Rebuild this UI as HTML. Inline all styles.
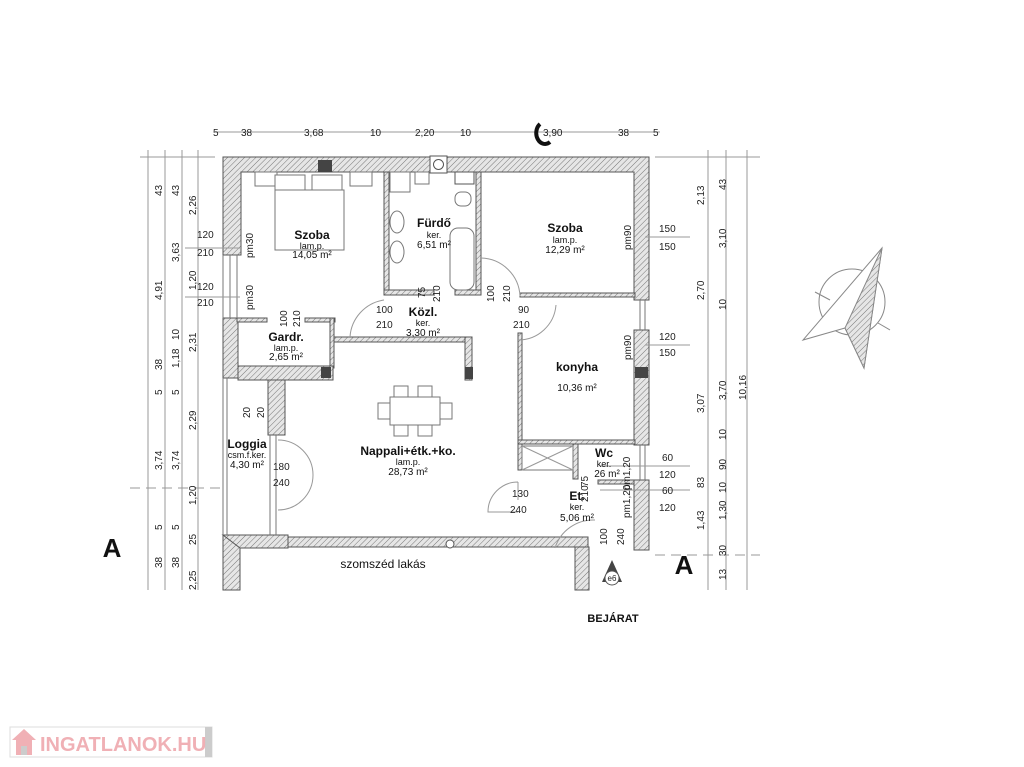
<!DOCTYPE html>
<html><head><meta charset="utf-8"><style>
html,body{margin:0;padding:0;background:#fff;}
svg{display:block;font-family:"Liberation Sans",Arial,sans-serif;}
</style></head><body>
<svg width="1024" height="767" viewBox="0 0 1024 767" xmlns="http://www.w3.org/2000/svg">
<defs>
<pattern id="h" width="4" height="4" patternUnits="userSpaceOnUse" patternTransform="rotate(45)">
<rect width="4" height="4" fill="#e6e6e6"/><line x1="0" y1="0" x2="0" y2="4" stroke="#777" stroke-width="1"/>
</pattern>
</defs>
<g stroke="#555" stroke-width="1" fill="url(#h)">
<!-- outer top wall -->
<path d="M223 157 H649 V300 H634 V172 H241 V255 H223 Z"/>
<!-- right wall lower -->
<rect x="634" y="330" width="15" height="115"/>
<rect x="634" y="480" width="15" height="70"/>
<!-- left wall lower pieces -->
<rect x="223" y="318" width="15" height="60"/>
<!-- bath walls -->
<rect x="384" y="172" width="5" height="120"/>
<rect x="476" y="172" width="5" height="122"/>
<rect x="384" y="290" width="50" height="5"/>
<rect x="455" y="290" width="26" height="5"/>
<!-- szoba right bottom wall -->
<rect x="520" y="293" width="115" height="4"/>
<!-- konyha left wall -->
<rect x="518" y="333" width="4" height="137"/>
<rect x="518" y="440" width="117" height="4"/>
<rect x="573" y="444" width="5" height="35"/>
<rect x="598" y="480" width="36" height="4"/>
<!-- gardr walls -->
<rect x="237" y="318" width="30" height="4"/>
<rect x="305" y="318" width="30" height="4"/>
<rect x="330" y="318" width="4" height="50"/>
<rect x="334" y="337" width="138" height="5"/>
<rect x="465" y="337" width="7" height="43"/>
<rect x="238" y="366" width="95" height="14"/>
<rect x="268" y="380" width="17" height="55"/>
<!-- bottom walls -->
<rect x="223" y="535" width="17" height="55"/>
<path d="M223 535 H288 V548 H240 Z"/>
<rect x="288" y="537" width="300" height="10"/>
<rect x="575" y="547" width="14" height="43"/>
</g>
<g fill="#444">
<rect x="318" y="160" width="14" height="12"/>
<rect x="321" y="367" width="10" height="11"/>
<rect x="465" y="367" width="8" height="12"/>
<rect x="635" y="367" width="13" height="11"/>
</g>
<g fill="#fff" stroke="#555">
<rect x="430" y="156" width="17" height="17"/><circle cx="438.5" cy="164.5" r="5"/>
<circle cx="450" cy="544" r="4"/>
<rect x="455" y="172" width="19" height="12"/>
</g>
<!-- windows -->
<g stroke="#777" fill="none">
<line x1="223" y1="255" x2="223" y2="318"/><line x1="230" y1="255" x2="230" y2="318"/><line x1="237" y1="255" x2="237" y2="318"/>
<line x1="640" y1="300" x2="640" y2="330"/><line x1="645" y1="300" x2="645" y2="330"/>
<line x1="640" y1="445" x2="640" y2="480"/><line x1="645" y1="445" x2="645" y2="480"/>
<line x1="223" y1="378" x2="223" y2="535"/><line x1="227" y1="378" x2="227" y2="535"/>
<line x1="270" y1="435" x2="270" y2="535"/><line x1="276" y1="435" x2="276" y2="535"/>
</g>
<!-- furniture -->
<g stroke="#777" fill="#fff">
<rect x="255" y="172" width="22" height="14"/><rect x="350" y="172" width="22" height="14"/>
<rect x="275" y="175" width="30" height="16"/><rect x="312" y="175" width="30" height="16"/>
<rect x="275" y="190" width="69" height="60"/>
<rect x="390" y="172" width="20" height="20"/><rect x="415" y="172" width="14" height="12"/>
<ellipse cx="397" cy="222" rx="7" ry="11"/><ellipse cx="397" cy="252" rx="7" ry="11"/>
<rect x="455" y="192" width="16" height="14" rx="6"/>
<rect x="450" y="228" width="24" height="62" rx="8"/>
<rect x="390" y="397" width="50" height="28"/>
<rect x="378" y="403" width="12" height="16"/><rect x="440" y="403" width="12" height="16"/>
<rect x="394" y="386" width="14" height="11"/><rect x="418" y="386" width="14" height="11"/>
<rect x="394" y="425" width="14" height="11"/><rect x="418" y="425" width="14" height="11"/>
<rect x="522" y="446" width="51" height="24" fill="none"/>
</g>
<g stroke="#999" fill="none">
<line x1="522" y1="446" x2="573" y2="470"/><line x1="573" y1="446" x2="522" y2="470"/>
<!-- door arcs -->
<path d="M350 337 A 40 40 0 0 1 384 300"/>
<path d="M481 258 A 40 40 0 0 1 520 296"/>
<path d="M518 340 A 38 38 0 0 0 556 305"/>
<path d="M278 440 A 35 35 0 0 1 313 475 M278 510 A 35 35 0 0 0 313 475"/>
<path d="M518 482 A 30 30 0 0 0 488 512 H518 M518 482 V500"/>
<path d="M595 520 A 40 40 0 0 0 555 548"/>
<!-- dims -->
<line x1="215" y1="132" x2="660" y2="132"/>
<line x1="148" y1="150" x2="148" y2="590"/><line x1="165" y1="150" x2="165" y2="590"/><line x1="182" y1="150" x2="182" y2="590"/><line x1="198" y1="150" x2="198" y2="590"/>
<line x1="140" y1="157" x2="215" y2="157"/>
<line x1="708" y1="150" x2="708" y2="590"/><line x1="726" y1="150" x2="726" y2="590"/><line x1="747" y1="150" x2="747" y2="590"/>
<line x1="655" y1="157" x2="760" y2="157"/>
<line x1="185" y1="248" x2="240" y2="248"/><line x1="185" y1="297" x2="240" y2="297"/>
<line x1="645" y1="237" x2="690" y2="237"/><line x1="645" y1="345" x2="690" y2="345"/>
<line x1="600" y1="466" x2="690" y2="466"/><line x1="600" y1="490" x2="690" y2="490"/>
<line x1="130" y1="488" x2="225" y2="488" stroke-dasharray="10 6"/>
<line x1="655" y1="555" x2="760" y2="555" stroke-dasharray="10 6"/>
</g>
<!-- compass -->
<g stroke="#888" fill="none">
<circle cx="852" cy="302" r="33"/>
<path d="M882 248 L803 340 L845 328 L864 368 Z" fill="#fff"/>
<path d="M882 248 L845 328 L864 368 Z" fill="url(#h)"/>
<line x1="815" y1="292" x2="830" y2="300"/><line x1="878" y1="323" x2="890" y2="330"/>
</g>
<!-- e6 -->
<path d="M612 560 L602 582 L622 582 Z" fill="#444"/>
<circle cx="612" cy="578" r="7" fill="#fff" stroke="#555"/>
<text x="612" y="581" font-size="8" text-anchor="middle" fill="#222">e6</text>
<g fill="#222" font-size="10">
<text x="213" y="136">5</text><text x="241" y="136">38</text><text x="304" y="136">3,68</text><text x="370" y="136">10</text><text x="415" y="136">2,20</text><text x="460" y="136">10</text><text x="543" y="136">3,90</text><text x="618" y="136">38</text><text x="653" y="136">5</text>
<text x="197" y="238">120</text><text x="197" y="256">210</text><text x="197" y="290">120</text><text x="197" y="306">210</text>
<text x="659" y="232">150</text><text x="659" y="250">150</text><text x="659" y="340">120</text><text x="659" y="356">150</text>
<text x="662" y="461">60</text><text x="659" y="478">120</text><text x="662" y="494">60</text><text x="659" y="511">120</text>
<text x="376" y="313">100</text><text x="376" y="328">210</text>
<text x="518" y="313">90</text><text x="513" y="328">210</text>
<text x="273" y="470">180</text><text x="273" y="486">240</text>
<text x="512" y="497">130</text><text x="510" y="513">240</text>
</g>
<g fill="#222" font-size="10">
<g transform="translate(162,196) rotate(-90)"><text>43</text></g>
<g transform="translate(179,196) rotate(-90)"><text>43</text></g>
<g transform="translate(196,215) rotate(-90)"><text>2,26</text></g>
<g transform="translate(179,262) rotate(-90)"><text>3,63</text></g>
<g transform="translate(162,300) rotate(-90)"><text>4,91</text></g>
<g transform="translate(196,290) rotate(-90)"><text>1,20</text></g>
<g transform="translate(179,340) rotate(-90)"><text>10</text></g>
<g transform="translate(179,368) rotate(-90)"><text>1,18</text></g>
<g transform="translate(196,352) rotate(-90)"><text>2,31</text></g>
<g transform="translate(162,370) rotate(-90)"><text>38</text></g>
<g transform="translate(162,395) rotate(-90)"><text>5</text></g><g transform="translate(179,395) rotate(-90)"><text>5</text></g>
<g transform="translate(196,430) rotate(-90)"><text>2,29</text></g>
<g transform="translate(162,470) rotate(-90)"><text>3,74</text></g><g transform="translate(179,470) rotate(-90)"><text>3,74</text></g>
<g transform="translate(196,505) rotate(-90)"><text>1,20</text></g>
<g transform="translate(162,530) rotate(-90)"><text>5</text></g><g transform="translate(179,530) rotate(-90)"><text>5</text></g>
<g transform="translate(196,545) rotate(-90)"><text>25</text></g>
<g transform="translate(162,568) rotate(-90)"><text>38</text></g><g transform="translate(179,568) rotate(-90)"><text>38</text></g>
<g transform="translate(196,590) rotate(-90)"><text>2,25</text></g>
<g transform="translate(704,205) rotate(-90)"><text>2,13</text></g>
<g transform="translate(726,190) rotate(-90)"><text>43</text></g>
<g transform="translate(726,248) rotate(-90)"><text>3,10</text></g>
<g transform="translate(704,300) rotate(-90)"><text>2,70</text></g>
<g transform="translate(726,310) rotate(-90)"><text>10</text></g>
<g transform="translate(726,400) rotate(-90)"><text>3,70</text></g>
<g transform="translate(746,400) rotate(-90)"><text>10,16</text></g>
<g transform="translate(704,413) rotate(-90)"><text>3,07</text></g>
<g transform="translate(726,440) rotate(-90)"><text>10</text></g>
<g transform="translate(726,470) rotate(-90)"><text>90</text></g>
<g transform="translate(704,488) rotate(-90)"><text>83</text></g>
<g transform="translate(726,493) rotate(-90)"><text>10</text></g>
<g transform="translate(726,520) rotate(-90)"><text>1,30</text></g>
<g transform="translate(704,530) rotate(-90)"><text>1,43</text></g>
<g transform="translate(726,556) rotate(-90)"><text>30</text></g>
<g transform="translate(726,580) rotate(-90)"><text>13</text></g>
<g transform="translate(253,258) rotate(-90)"><text>pm30</text></g>
<g transform="translate(253,310) rotate(-90)"><text>pm30</text></g>
<g transform="translate(631,250) rotate(-90)"><text>pm90</text></g>
<g transform="translate(631,360) rotate(-90)"><text>pm90</text></g>
<g transform="translate(287,327) rotate(-90)"><text>100</text></g><g transform="translate(300,327) rotate(-90)"><text>210</text></g>
<g transform="translate(425,298) rotate(-90)"><text>75</text></g><g transform="translate(440,302) rotate(-90)"><text>210</text></g>
<g transform="translate(494,302) rotate(-90)"><text>100</text></g><g transform="translate(510,302) rotate(-90)"><text>210</text></g>
<g transform="translate(250,418) rotate(-90)"><text>20</text></g><g transform="translate(264,418) rotate(-90)"><text>20</text></g>
<g transform="translate(588,487) rotate(-90)"><text>75</text></g><g transform="translate(588,502) rotate(-90)"><text>210</text></g>
<g transform="translate(630,490) rotate(-90)"><text>pm1,20</text></g>
<g transform="translate(630,518) rotate(-90)"><text>pm1,20</text></g>
<g transform="translate(607,545) rotate(-90)"><text>100</text></g><g transform="translate(624,545) rotate(-90)"><text>240</text></g>
</g>
<g fill="#111" text-anchor="middle">
<text x="312" y="239" font-size="12" font-weight="bold">Szoba</text>
<text x="312" y="249" font-size="9">lam.p.</text><text x="312" y="258" font-size="10">14,05 m²</text>
<text x="434" y="227" font-size="12" font-weight="bold">Fürdő</text>
<text x="434" y="238" font-size="9">ker.</text><text x="434" y="248" font-size="10">6,51 m²</text>
<text x="565" y="232" font-size="12" font-weight="bold">Szoba</text>
<text x="565" y="243" font-size="9">lam.p.</text><text x="565" y="253" font-size="10">12,29 m²</text>
<text x="423" y="316" font-size="12" font-weight="bold">Közl.</text>
<text x="423" y="326" font-size="9">ker.</text><text x="423" y="336" font-size="10">3,30 m²</text>
<text x="286" y="341" font-size="12" font-weight="bold">Gardr.</text>
<text x="286" y="351" font-size="9">lam.p.</text><text x="286" y="360" font-size="10">2,65 m²</text>
<text x="577" y="371" font-size="12" font-weight="bold">konyha</text>
<text x="577" y="391" font-size="10">10,36 m²</text>
<text x="247" y="448" font-size="12" font-weight="bold">Loggia</text>
<text x="247" y="458" font-size="9">csm.f.ker.</text><text x="247" y="468" font-size="10">4,30 m²</text>
<text x="408" y="455" font-size="12" font-weight="bold">Nappali+étk.+ko.</text>
<text x="408" y="465" font-size="9">lam.p.</text><text x="408" y="475" font-size="10">28,73 m²</text>
<text x="604" y="457" font-size="12" font-weight="bold">Wc</text>
<text x="604" y="467" font-size="9">ker.</text><text x="607" y="477" font-size="10">26 m²</text>
<text x="577" y="500" font-size="12" font-weight="bold">Et.</text>
<text x="577" y="510" font-size="9">ker.</text><text x="577" y="521" font-size="10">5,06 m²</text>
<text x="383" y="568" font-size="12">szomszéd lakás</text>
<text x="613" y="622" font-size="11" font-weight="bold">BEJÁRAT</text>
<text x="112" y="557" font-size="26" font-weight="bold">A</text>
<text x="684" y="574" font-size="26" font-weight="bold">A</text>
</g>
<path d="M540 124 A 8 10 0 0 0 550 142" stroke="#111" stroke-width="4" fill="none"/>
<!-- logo -->
<rect x="10" y="727" width="202" height="30" fill="#fff" stroke="#ddd"/>
<rect x="205" y="727" width="7" height="30" fill="#ccc"/>
<path d="M12 740 L24 729 L36 740 Z M16 740 H32 V755 H16 Z" fill="#f0b0b5"/>
<rect x="21" y="746" width="6" height="9" fill="#ccc"/>
<text x="40" y="751" font-size="20" font-weight="bold" fill="#f0b0b5" font-family="Liberation Sans,sans-serif">INGATLANOK.HU</text>
</svg>
</body></html>
